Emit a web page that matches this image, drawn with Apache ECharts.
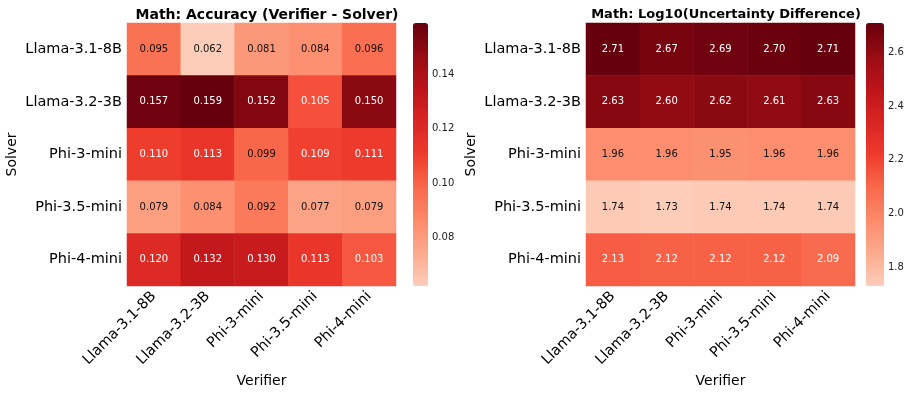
<!DOCTYPE html>
<html>
<head>
<meta charset="utf-8">
<script src="https://cdn.jsdelivr.net/npm/echarts@6/dist/echarts.min.js"></script>
<style>
  html, body { margin: 0; padding: 0; background: #fff; }
  #chart { width: 913px; height: 395px; }
</style>
</head>
<body>
<div id="chart"></div>
<script>
// models (rows = solver, cols = verifier)
const solvers = ["Llama-3.1-8B", "Llama-3.2-3B", "Phi-3-mini", "Phi-3.5-mini", "Phi-4-mini"];
const verifiers = ["Llama-3.1-8B", "Llama-3.2-3B", "Phi-3-mini", "Phi-3.5-mini", "Phi-4-mini"];

// accuracy difference (verifier - solver)
const accRows = [
  [0.095, 0.062, 0.081, 0.084, 0.096],
  [0.157, 0.159, 0.152, 0.105, 0.150],
  [0.110, 0.113, 0.099, 0.109, 0.111],
  [0.079, 0.084, 0.092, 0.077, 0.079],
  [0.120, 0.132, 0.130, 0.113, 0.103]
];

// log10 uncertainty difference
const uncRows = [
  [2.71, 2.67, 2.69, 2.70, 2.71],
  [2.63, 2.60, 2.62, 2.61, 2.63],
  [1.96, 1.96, 1.95, 1.96, 1.96],
  [1.74, 1.73, 1.74, 1.74, 1.74],
  [2.13, 2.12, 2.12, 2.12, 2.09]
];

const accTicks = [0.08, 0.10, 0.12, 0.14];
const uncTicks = [1.8, 2.0, 2.2, 2.4, 2.6];

const reds = ["#fdcdb9", "#fcab8f", "#fc8a6a", "#f9694c", "#ef3b2c", "#d92523", "#bc141a", "#980c13", "#67000d"];
const font = "DejaVu Sans";

function cells(rows, light) {
  const out = [];
  rows.forEach((r, i) => r.forEach((v, j) => {
    out.push({
      value: [j, i, v],
      label: { color: v > light ? "#fff" : "#111" }
    });
  }));
  return out;
}
function minOf(rows) { return Math.min(...rows.flat()); }
function maxOf(rows) { return Math.max(...rows.flat()); }

const accMin = minOf(accRows), accMax = maxOf(accRows);
const uncMin = minOf(uncRows), uncMax = maxOf(uncRows);

const chart = echarts.init(document.getElementById("chart"));

const catX = (gi) => ({
  type: "category", gridIndex: gi, data: verifiers,
  name: "Verifier", nameLocation: "middle", nameGap: 86,
  nameTextStyle: { fontFamily: font, fontSize: 14, color: "#000" },
  axisLine: { show: false }, splitArea: { show: false },
  axisTick: { show: false },
  axisLabel: { rotate: 45, interval: 0, fontFamily: font, fontSize: 14.5, color: "#000", margin: 8 }
});
const catY = (gi) => ({
  type: "category", gridIndex: gi, data: solvers, inverse: true,
  name: "Solver", nameLocation: "middle", nameGap: 108, nameRotate: 90,
  nameTextStyle: { fontFamily: font, fontSize: 14, color: "#000" },
  axisLine: { show: false }, splitArea: { show: false },
  axisTick: { show: false },
  axisLabel: { interval: 0, fontFamily: font, fontSize: 14.5, color: "#000", margin: 5 }
});
const cbY = (gi, mn, mx, ticks, digits) => ({
  type: "value", gridIndex: gi, position: "right", min: mn, max: mx,
  splitLine: { show: false }, axisLine: { show: false },
  axisTick: { show: true, length: 4, customValues: ticks, lineStyle: { color: "#333" } },
  axisLabel: { customValues: ticks, fontFamily: font, fontSize: 10, color: "#222", margin: 4,
    formatter: v => v.toFixed(digits) }
});
const hiddenX = (gi) => ({ type: "value", gridIndex: gi, show: false });

chart.setOption({
  animation: false,
  title: [
    { text: "Math: Accuracy (Verifier - Solver)", left: 262, top: 3, textAlign: "center",
      textStyle: { fontFamily: font, fontSize: 14, fontWeight: "bold", color: "#000" } },
    { text: "Math: Log10(Uncertainty Difference)", left: 721, top: 3, textAlign: "center",
      textStyle: { fontFamily: font, fontSize: 13, fontWeight: "bold", color: "#000" } }
  ],
  grid: [
    { left: 127, top: 23, width: 269, height: 263 },
    { left: 586, top: 23, width: 269, height: 263 },
    { left: 413, top: 23, width: 15, height: 263 },
    { left: 866, top: 23, width: 18, height: 263 }
  ],
  xAxis: [catX(0), catX(1), hiddenX(2), hiddenX(3)],
  yAxis: [catY(0), catY(1), cbY(2, accMin, accMax, accTicks, 2), cbY(3, uncMin, uncMax, uncTicks, 1)],
  visualMap: [
    { type: "continuous", seriesIndex: 0, min: accMin, max: accMax, calculable: false,
      left: 413, top: 23, itemWidth: 15, itemHeight: 263, padding: 0, text: null, showLabel: false,
      inRange: { color: reds } },
    { type: "continuous", seriesIndex: 1, min: uncMin, max: uncMax, calculable: false,
      left: 866, top: 23, itemWidth: 18, itemHeight: 263, padding: 0, text: null, showLabel: false,
      inRange: { color: reds } }
  ],
  series: [
    { type: "heatmap", xAxisIndex: 0, yAxisIndex: 0, data: cells(accRows, 0.1),
      label: { show: true, fontFamily: font, fontSize: 10, formatter: p => p.value[2].toFixed(3) },
      emphasis: { disabled: true } },
    { type: "heatmap", xAxisIndex: 1, yAxisIndex: 1, data: cells(uncRows, 2.0),
      label: { show: true, fontFamily: font, fontSize: 10, formatter: p => p.value[2].toFixed(2) },
      emphasis: { disabled: true } }
  ]
});
</script>
</body>
</html>
